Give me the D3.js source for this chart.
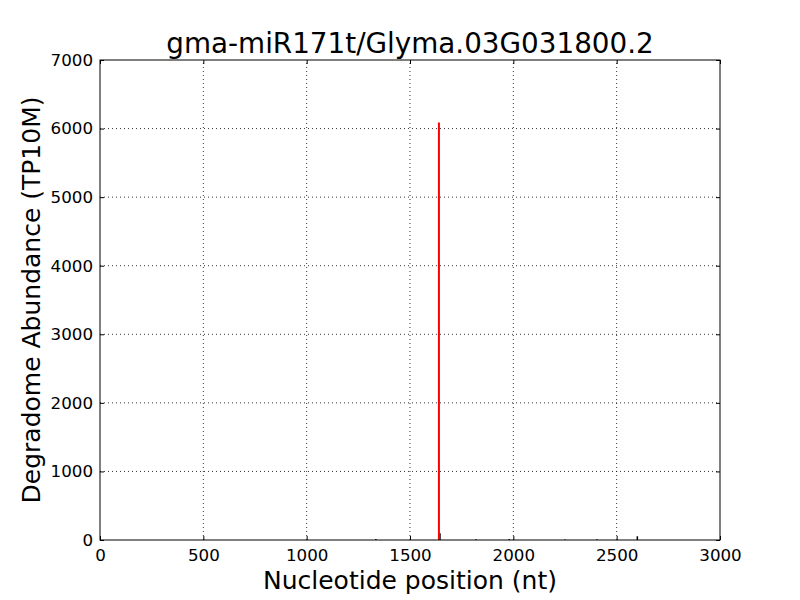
<!DOCTYPE html>
<html>
<head>
<meta charset="utf-8">
<script src="https://cdn.jsdelivr.net/npm/d3@7"></script>
<style>
  body { margin: 0; background: #fff; }
  svg { display: block; font-family: "DejaVu Sans", sans-serif; }
</style>
</head>
<body>
<div id="chart"></div>
<script>
// degradome signal (black) and target site (red)
const positions = [1335, 1645, 1820, 1980, 2250, 2405, 2600];
const abundance = [15, 100, 10, 15, 8, 10, 55];
const sitePos = [1640];
const siteAbundance = [6090];
const xTicks = [0, 500, 1000, 1500, 2000, 2500, 3000];
const yTicks = [0, 1000, 2000, 3000, 4000, 5000, 6000, 7000];

const width = 800, height = 600;
const margin = { top: 60, right: 80, bottom: 60, left: 100 };

const svg = d3.select("#chart").append("svg")
  .attr("width", width)
  .attr("height", height);

const x = d3.scaleLinear().domain([0, 3000]).range([margin.left, width - margin.right]);
const y = d3.scaleLinear().domain([0, 7000]).range([height - margin.bottom, margin.top]);

// grid
svg.append("g").selectAll("line").data(xTicks.slice(1, -1)).join("line")
  .attr("x1", d => x(d)).attr("x2", d => x(d))
  .attr("y1", y(0)).attr("y2", y(7000))
  .attr("stroke", "#000").attr("stroke-width", 0.8).attr("stroke-dasharray", "1,3");
svg.append("g").selectAll("line").data(yTicks.slice(1, -1)).join("line")
  .attr("x1", x(0)).attr("x2", x(3000))
  .attr("y1", d => y(d)).attr("y2", d => y(d))
  .attr("stroke", "#000").attr("stroke-width", 0.8).attr("stroke-dasharray", "1,3");

// bars
svg.append("g").selectAll("line").data(positions).join("line")
  .attr("x1", d => x(d)).attr("x2", d => x(d))
  .attr("y1", y(0)).attr("y2", (d, i) => y(abundance[i]))
  .attr("stroke", "#000").attr("stroke-width", 1.5);
svg.append("g").selectAll("line").data(sitePos).join("line")
  .attr("x1", d => x(d)).attr("x2", d => x(d))
  .attr("y1", y(0)).attr("y2", (d, i) => y(siteAbundance[i]))
  .attr("stroke", "red").attr("stroke-width", 2);

// axes, ticks inward on all sides
const gx = svg.append("g")
  .attr("transform", `translate(0,${y(0)})`)
  .call(d3.axisBottom(x).tickValues(xTicks).tickSize(-4).tickPadding(9).tickFormat(d3.format("d")));
const gxTop = svg.append("g")
  .attr("transform", `translate(0,${y(7000)})`)
  .call(d3.axisTop(x).tickValues(xTicks).tickSize(-4).tickFormat(""));
const gy = svg.append("g")
  .attr("transform", `translate(${x(0)},0)`)
  .call(d3.axisLeft(y).tickValues(yTicks).tickSize(-4).tickPadding(7).tickFormat(d3.format("d")));
const gyRight = svg.append("g")
  .attr("transform", `translate(${x(3000)},0)`)
  .call(d3.axisRight(y).tickValues(yTicks).tickSize(-4).tickFormat(""));

[gx, gxTop, gy, gyRight].forEach(g => {
  g.select(".domain").remove();
  g.selectAll("line").attr("stroke", "#000");
  g.selectAll("text").attr("font-size", 16.7).attr("fill", "#000")
    .attr("font-family", "DejaVu Sans");
});

// frame
svg.append("rect")
  .attr("x", x(0)).attr("y", y(7000))
  .attr("width", x(3000) - x(0)).attr("height", y(0) - y(7000))
  .attr("fill", "none").attr("stroke", "#000").attr("stroke-width", 1);

// labels
svg.append("text")
  .attr("x", (x(0) + x(3000)) / 2).attr("y", 53)
  .attr("text-anchor", "middle").attr("font-size", 27.8)
  .text("gma-miR171t/Glyma.03G031800.2");
svg.append("text")
  .attr("x", (x(0) + x(3000)) / 2).attr("y", 589)
  .attr("text-anchor", "middle").attr("font-size", 25)
  .text("Nucleotide position (nt)");
svg.append("text")
  .attr("transform", `translate(40,${(y(0) + y(7000)) / 2}) rotate(-90)`)
  .attr("text-anchor", "middle").attr("font-size", 25)
  .text("Degradome Abundance (TP10M)");
</script>
</body>
</html>
